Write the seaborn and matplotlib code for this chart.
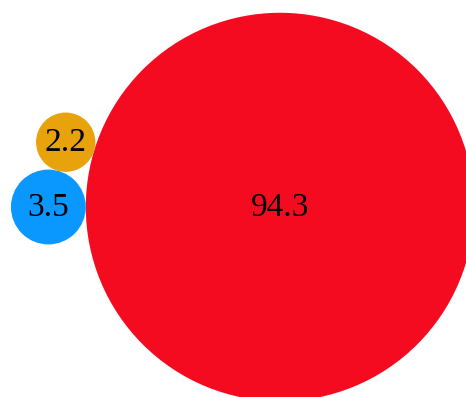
import numpy as np
import matplotlib.pyplot as plt
import seaborn as sns
from matplotlib.patches import Circle

# Data
labels = ["94.3", "3.5", "2.2"]
values = [94.3, 3.5, 2.2]
colors = ["#F50B20", "#0A98FF", "#E8A30C"]

SCALE = 20  # radius units per sqrt(value)


def pack_circles(vals):
    """Place the largest circle at the origin, the second to its left,
    the third tangent to both on the upper side."""
    r = [np.sqrt(v) * SCALE for v in vals]
    c0 = np.array([0.0, 0.0])
    a = r[0] + r[1]
    c1 = np.array([-a, 0.0])
    d1 = r[0] + r[2]
    d2 = r[1] + r[2]
    # intersection of the two tangency circles
    x = (d1 ** 2 - d2 ** 2 + a ** 2) / (2 * a)
    h = np.sqrt(max(d1 ** 2 - x ** 2, 0))
    c2 = np.array([-x, h])
    return [c0, c1, c2], r


sns.set_theme(style="white")
plt.rcParams['font.family'] = ['Liberation Serif', 'DejaVu Serif']

fig = plt.figure(figsize=(4.66, 3.97), dpi=100)
ax = fig.add_axes([0, 0, 1, 1])

centers, radii = pack_circles(values)
for (cx, cy), r, col, lab in zip(centers, radii, colors, labels):
    ax.add_patch(Circle((cx, cy), r, facecolor=col, edgecolor='none'))
    ax.annotate(lab, (cx, cy), xytext=(0, 2), textcoords='offset points',
                ha='center', va='center_baseline', fontsize=24, color='black')

ax.set_xlim(-280, 186)
ax.set_ylim(-190, 207)
ax.set_aspect('equal')
ax.axis('off')

fig.savefig("out.png", dpi=100)
